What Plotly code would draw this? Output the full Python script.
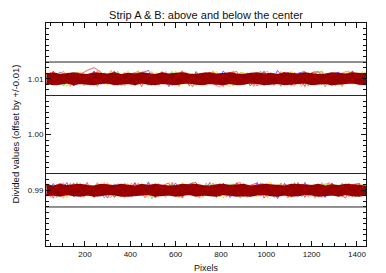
import plotly.graph_objects as go

# ---- data (offsets in units of 1e-4 from each band centre) ----
CENTERS = [1.01, 0.99]
LEVELS = [1.013, 1.007, 0.993, 0.987]
X_RANGE = [28, 1440]
Y_RANGE = [0.98, 1.02]

XA = [30, 60, 90, 120, 150, 180, 210, 240, 270, 300, 330, 360, 390, 420, 450, 480,
      510, 540, 570, 600, 630, 660, 690, 720, 750, 780, 810, 840, 870, 900, 930, 960,
      990, 1020, 1050, 1080, 1110, 1140, 1170, 1200, 1230, 1260, 1290, 1320, 1350,
      1380, 1410, 1440]
XB = [45, 75, 105, 135, 165, 195, 225, 255, 285, 315, 345, 375, 405, 435, 465, 495,
      525, 555, 585, 615, 645, 675, 705, 735, 765, 795, 825, 855, 885, 915, 945, 975,
      1005, 1035, 1065, 1095, 1125, 1155, 1185, 1215, 1245, 1275, 1305, 1335, 1365,
      1395, 1425]

# upper strip (A)
blue_u = [3,-8,12,5,-13,9,-4,14,-10,6,13,-7,2,-12,10,15,-6,8,-14,4,11,-9,13,-3,7,-12,14,1,-10,9,-13,5,12,-8,15,-2,-11,10,13,-6,4,-14,8,12,-9,14,-5,3]
green_u = [-6,10,-13,4,12,-9,7,-14,11,-3,13,-10,5,14,-8,-12,9,2,13,-11,6,-15,10,-4,12,-7,3,-13,11,8,-12,14,-5,9,-14,12,-2,7,-13,10,13,-9,4,-12,11,-6,13]
yellow_u = [12,-4,9,-14,6,13,-9,3,12,-12,8,-5,14,-10,4,-13,11,7,-8,14,-11,2,-13,10,5,13,-9,-14,8,12,-6,11,-13,3,10,-11,14,-7,-12,9,6,-13,11,-4,13,-10,8,12]
orange_u = [8,-12,14,-6,10,-13,2,12,-10,15,-4,-13,9,11,-7,13,-12,5,10,-14,12,-3,8,-11,14,-9,6,13,-12,4,-14,10,7,-10,13,-5,-13,11,9,-12,14,-8,3,-14,12,6,-11]
red_u = [-11,14,-7,10,-13,8,15,20,12,-9,13,-12,6,11,-14,9,-6,13,-10,5,14,-13,11,-8,12,-4,-14,10,13,-11,7,-13,14,-9,4,12,-12,9,-14,11,13,-7,-12,10,-5,14,-11,9]
salmon_u = [13,-10,6,-14,11,9,-12,14,-7,3,-13,12,-9,10,14,-11,-4,13,-13,8,11,-14,6,12,-10,-15,9,13,-6,11,-12,5,14,-13,10,-8,12,-14,7,13,-11,4,-13,11,14,-9,10]
fill_top_u = [8,10,7,9,10,8,7,10,9,8,10,7,9,8,10,9,7,10,8,9,10,8,7,9,10,8,9,10,8,7,9,10,8,9,7,10,9,8,10,9,7,8,10,9,8,10,9,8]
fill_bot_u = [-8,-10,-9,-7,-10,-8,-9,-10,-8,-7,-10,-9,-8,-10,-7,-9,-10,-8,-9,-10,-8,-7,-9,-10,-8,-9,-10,-8,-10,-9,-7,-8,-10,-9,-8,-10,-9,-8,-7,-10,-9,-8,-10,-9,-8,-7,-9,-10]
tex_u = [5,-8,3,-6,9,-2,7,-9,4,-5,8,-3,6,-9,2,8,-7,5,-4,9,-8,3,-6,7,-9,4,6,-8,2,-5,9,-7,3,8,-6,5,-9,7,-3,6,-8,4,9,-5,-7,8,-2]

# lower strip (B)
blue_l = [-9,12,-4,14,-12,7,10,-13,5,-14,11,3,-10,13,-7,15,-12,9,-5,13,-14,10,6,-11,14,-8,12,-13,4,11,-12,14,-9,7,-15,12,3,-11,14,-6,10,-13,12,-8,5,-12,13,-10]
green_l = [11,-13,8,-6,14,-11,3,12,-14,9,-8,13,-12,6,11,-15,10,-3,12,-13,7,14,-10,-5,13,-12,9,11,-14,4,-11,13,8,-13,12,-7,14,-12,5,-14,10,12,-9,13,-4,-12,11]
yellow_l = [13,-7,11,-14,4,12,-11,9,-6,14,-13,8,12,-10,3,-14,13,-8,10,-12,14,-5,9,-13,11,7,-14,12,-9,13,-3,-12,10,14,-11,6,-13,12,-7,11,-14,9,13,-10,4,-13,12,8]
orange_l = [-12,9,-14,13,-5,11,-10,14,-8,-13,12,4,-11,13,-14,7,12,-9,14,-12,3,10,-14,13,-7,11,-12,9,14,-10,-6,13,-13,8,11,-14,12,-4,10,-13,14,-9,6,-12,13,-11,9]
red_l = [7,-14,12,-10,13,-6,14,-12,9,11,-13,5,-11,14,-9,12,-14,8,13,-7,-12,11,14,-10,6,-13,12,-8,14,-11,9,13,-14,4,-12,12,-9,14,-13,7,11,-12,13,-6,-14,10,12,-11]
salmon_l = [-14,10,13,-8,12,-13,6,-11,14,-9,10,-14,13,-5,-12,11,8,-13,14,-10,4,12,-14,9,-7,13,-12,10,14,-13,5,-11,12,-9,13,-14,8,11,-12,6,-13,14,-10,9,-12,12,-8]
fill_top_l = [9,7,10,8,9,10,8,7,10,9,8,10,9,7,10,8,10,9,7,8,10,9,10,8,7,9,10,8,9,10,7,8,10,9,8,7,10,10,9,8,10,7,9,8,10,9,8,7]
fill_bot_l = [-9,-8,-10,-7,-9,-10,-8,-10,-9,-7,-8,-10,-10,-9,-8,-7,-10,-9,-8,-10,-9,-7,-10,-8,-9,-10,-7,-8,-10,-9,-10,-8,-7,-9,-10,-8,-10,-9,-7,-8,-10,-9,-8,-10,-7,-9,-10,-8]
tex_l = [-4,7,-9,3,8,-6,5,-8,9,-3,6,-7,2,9,-5,-8,7,4,-9,6,-3,8,-7,5,9,-6,-2,7,-8,4,6,-9,8,-4,3,-7,9,-5,6,-8,2,7,-6,9,-3,-7,5]

COL = {"blue": "#4848ff", "green": "#40d040", "yellow": "#f0e000",
       "orange": "#ff9020", "red": "#ff3030", "salmon": "#ff8080",
       "core": "#960000", "tex": "#c00000"}

bands = [
    (CENTERS[0], [("blue", XA, blue_u), ("green", XB, green_u), ("yellow", XA, yellow_u),
                  ("orange", XB, orange_u), ("salmon", XB, salmon_u), ("red", XA, red_u)],
     fill_top_u, fill_bot_u, tex_u),
    (CENTERS[1], [("blue", XA, blue_l), ("green", XB, green_l), ("yellow", XA, yellow_l),
                  ("orange", XB, orange_l), ("salmon", XB, salmon_l), ("red", XA, red_l)],
     fill_top_l, fill_bot_l, tex_l),
]

def lvl(c, vals):
    return [c + v * 1e-4 for v in vals]

fig = go.Figure()
for c, lines, ftop, fbot, tex in bands:
    for name, xs, vals in lines:
        fig.add_trace(go.Scatter(x=xs, y=lvl(c, vals), mode="lines",
                                 line=dict(color=COL[name], width=0.8),
                                 hoverinfo="skip", showlegend=False))
    fig.add_trace(go.Scatter(x=XA, y=lvl(c, fbot), mode="lines",
                             line=dict(color=COL["core"], width=1.8),
                             hoverinfo="skip", showlegend=False))
    fig.add_trace(go.Scatter(x=XA, y=lvl(c, ftop), mode="lines", fill="tonexty",
                             fillcolor=COL["core"],
                             line=dict(color=COL["core"], width=1.8),
                             hoverinfo="skip", showlegend=False))
    fig.add_trace(go.Scatter(x=XB, y=lvl(c, tex), mode="lines",
                             line=dict(color=COL["tex"], width=0.7),
                             hoverinfo="skip", showlegend=False))

for yv in LEVELS:
    fig.add_shape(type="line", xref="paper", x0=0, x1=1, yref="y", y0=yv, y1=yv,
                  line=dict(color="#222222", width=1))

ink = "#111111"
axis_font = dict(family="Liberation Sans", size=8, color=ink)
fig.update_layout(
    width=386, height=273,
    margin=dict(l=46, r=20, t=23, b=27, autoexpand=False),
    paper_bgcolor="white", plot_bgcolor="white",
    title=dict(text="Strip A & B: above and below the center",
               x=0.5, xanchor="center", xref="paper",
               y=1 - 15 / 273, yref="container", yanchor="middle",
               font=dict(family="Liberation Sans", size=11, color=ink)),
    xaxis=dict(range=X_RANGE, tick0=0, dtick=200, ticks="inside", ticklen=5,
               tickcolor=ink, showline=True, linecolor=ink, linewidth=1,
               mirror="ticks", showgrid=False, zeroline=False, tickfont=axis_font,
               automargin=False,
               minor=dict(dtick=50, tick0=0, ticks="inside", ticklen=3,
                          tickcolor=ink, showgrid=False)),
    yaxis=dict(range=Y_RANGE, tick0=0.99, dtick=0.01, tickformat=".2f",
               labelalias={"0.98": "", "1.02": ""},
               ticks="inside", ticklen=5, tickcolor=ink, showline=True,
               linecolor=ink, linewidth=1, mirror="ticks", showgrid=False,
               zeroline=False, tickfont=axis_font, automargin=False,
               minor=dict(dtick=0.001, tick0=0.98, ticks="inside", ticklen=3,
                          tickcolor=ink, showgrid=False)),
    annotations=[
        dict(text="Pixels", xref="paper", x=0.5, xanchor="center",
             yref="paper", y=-(268 - 246) / 223, yanchor="middle",
             showarrow=False, font=dict(family="Liberation Sans", size=9, color=ink)),
        dict(text="Divided values (offset by +/-0.01)", textangle=-90,
             xref="paper", x=-(46 - 15) / 320, xanchor="center",
             yref="paper", y=0.5, yanchor="middle",
             showarrow=False, font=dict(family="Liberation Sans", size=9.5, color=ink)),
    ],
)

fig.write_html("out.html", config={"displayModeBar": False},
               post_script="document.body.style.margin='0';document.body.style.padding='0';")
